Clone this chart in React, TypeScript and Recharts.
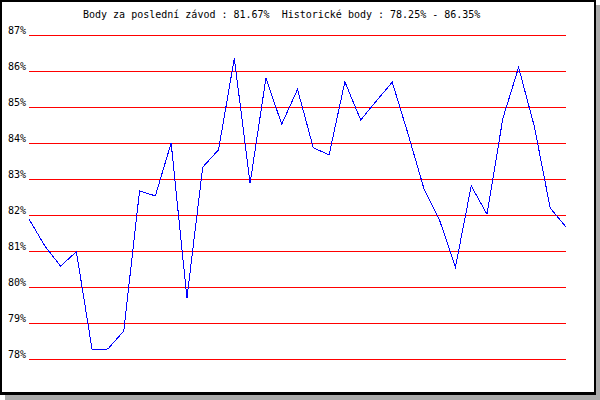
import React from "react";
import { LineChart, Line, XAxis, YAxis, CartesianGrid } from "recharts";

const races: number[] = Array.from({ length: 35 }, (_, i) => i + 1);
const points: number[] = [
  81.89, 81.14, 80.58, 80.98, 78.25, 78.28, 78.78, 82.67, 82.53, 84.0,
  79.69, 83.33, 83.81, 86.35, 82.88, 85.8, 84.52, 85.49, 83.87, 83.67,
  85.7, 84.64, 85.17, 85.69, 84.25, 82.74, 81.85, 80.55, 82.81, 82.02,
  84.68, 86.1, 84.45, 82.19, 81.67,
];
const yTicks: number[] = [78, 79, 80, 81, 82, 83, 84, 85, 86, 87];
const titleText = "Body za poslední závod : 81.67%  Historické body : 78.25% - 86.35%";

const data = races.map((r, i) => ({ race: r, value: points[i] }));

const FONT = '"DejaVu Sans Mono", "Liberation Mono", monospace';

const YTick = (props: any) => {
  const { y, payload } = props;
  return (
    <text x={8} y={y - 1} fontFamily={FONT} fontSize={10} fill="#000" textAnchor="start">
      {payload.value + "%"}
    </text>
  );
};

export default function App() {
  return (
    <div style={{ position: "absolute", left: 0, top: 0, width: 600, height: 400, background: "#fff" }}>
      {/* shadow */}
      <div style={{ position: "absolute", left: 596, top: 5, width: 4, height: 395, background: "#aaaaaa" }} />
      <div style={{ position: "absolute", left: 5, top: 395, width: 595, height: 5, background: "#aaaaaa" }} />
      {/* frame */}
      <div
        style={{
          position: "absolute",
          left: 0,
          top: 0,
          width: 596,
          height: 395,
          boxSizing: "border-box",
          borderTop: "2px solid #000",
          borderLeft: "2px solid #000",
          borderRight: "2px solid #000",
          borderBottom: "3px solid #000",
          background: "#fff",
        }}
      />
      <div style={{ position: "absolute", left: 0, top: 0, width: 600, height: 400, shapeRendering: "crispEdges" } as any}>
        <LineChart width={600} height={400} data={data} margin={{ top: 35, right: 34, bottom: 41, left: 0 }}>
          <CartesianGrid horizontal={true} vertical={false} stroke="#ff0000" strokeWidth={1} />
          <XAxis dataKey="race" hide />
          <YAxis
            domain={[78, 87]}
            ticks={yTicks}
            width={29}
            axisLine={false}
            tickLine={false}
            tick={<YTick />}
            interval={0}
          />
          <Line
            type="linear"
            dataKey="value"
            stroke="#0000ff"
            strokeWidth={1}
            dot={false}
            activeDot={false}
            isAnimationActive={false}
          />
        </LineChart>
      </div>
      <svg style={{ position: "absolute", left: 0, top: 0 }} width={600} height={30}>
        <text x={83} y={18} fontFamily={FONT} fontSize={10} fill="#000" xmlSpace="preserve" style={{ whiteSpace: "pre" }}>
          {titleText}
        </text>
      </svg>
    </div>
  );
}
